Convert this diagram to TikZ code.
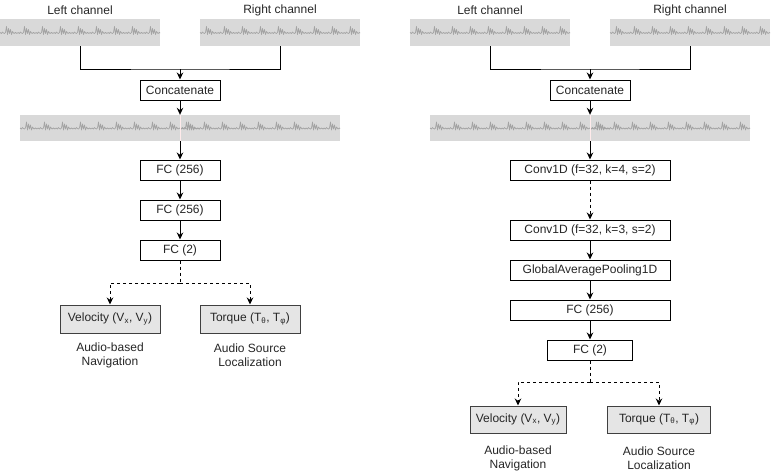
\documentclass[tikz,border=0pt]{standalone}
\usepackage{fontspec}
\setmainfont{Liberation Sans}
\usetikzlibrary{arrows.meta}
\newcommand{\wavepath}[3]{%
  \draw[wl] (#1,#2) \foreach \i in {1,...,#3}{ -- ++(1.5,1) -- ++(1,-1.5) -- ++(1,1) -- ++(1,0.5) -- ++(1,-1) -- ++(1,-6) -- ++(1,8) -- ++(1,-6) -- ++(1,5) -- ++(1,-4) -- ++(1,5) -- ++(1,-3) -- ++(1.5,2) -- ++(1.5,-1) -- ++(1.5,1) -- ++(1,-1) };%
}
\begin{document}
\begin{tikzpicture}[x=1pt,y=-1pt,
  box/.style={draw=black, line width=1pt, fill=white, minimum height=20pt, inner sep=0pt, font=\fontsize{12}{14}\selectfont, text=black!85},
  outbox/.style={box, fill=black!10, draw=black!75, minimum height=28pt},
  wavebg/.style={fill=black!15, draw=none, minimum height=27pt, inner sep=0pt},
  wl/.style={draw=black!36, line width=0.7pt, line join=round},
  lnk/.style={line width=1pt},
  arr/.style={line width=1pt, -{Stealth[length=7pt,width=6.5pt]}},
  dsh/.style={dash pattern=on 3pt off 3pt},
  lbl/.style={font=\fontsize{12}{14}\selectfont, align=center, text=black!85, inner sep=0pt}]
\useasboundingbox (0,0) rectangle (771,474);

% ---------------- Left diagram ----------------
\node[lbl] (lt1) at (80,10) {Left channel};
\node[lbl] (rt1) at (280,10) {Right channel};
\node[wavebg, minimum width=160pt] (lw) at (80,32.5) {};
\begin{scope}\clip (lw.north west) rectangle (lw.south east); \wavepath{0}{32.5}{10}\end{scope}
\node[wavebg, minimum width=160pt] (rw) at (280,32.5) {};
\begin{scope}\clip (rw.north west) rectangle (rw.south east); \wavepath{200}{32.5}{10}\end{scope}
\coordinate (j1) at (180,69);
\draw[lnk] (lw.south) |- (j1) -| (rw.south);
\node[box, minimum width=80pt] (cat) at (180,90) {Concatenate};
\draw[arr] (j1) -- (cat.north);
\node[wavebg, minimum width=320pt, minimum height=26pt] (ww) at (180,128) {};
\begin{scope}\clip (ww.north west) rectangle (ww.south east); \wavepath{20}{128}{10}\wavepath{180}{128}{10}\end{scope}
\draw[red!8, line width=0.5pt] (ww.north) -- (ww.south);
\draw[arr] (cat.south) -- (ww.north);
\node[box, minimum width=80pt] (fca) at (180,170) {FC (256)};
\node[box, minimum width=80pt] (fcb) at (180,210) {FC (256)};
\node[box, minimum width=80pt] (fcc) at (180,250) {FC (2)};
\draw[arr] (ww.south) -- (fca.north);
\draw[arr] (fca.south) -- (fcb.north);
\draw[arr] (fcb.south) -- (fcc.north);
\node[outbox, minimum width=100pt] (vel) at (110,319) {Velocity (V\textsubscript{x}, V\textsubscript{y})};
\node[outbox, minimum width=100pt] (tor) at (250,319) {Torque (T\textsubscript{θ}, T\textsubscript{φ})};
\coordinate (d1) at (180,283);
\draw[lnk, dsh] (fcc.south) -- (d1);
\draw[arr, dsh] (d1) -| (vel.north);
\draw[arr, dsh] (d1) -| (tor.north);
\node[lbl] (nav) at (110,355) {Audio-based\\Navigation};
\node[lbl] (loc) at (250,355) {Audio Source\\Localization};

% ---------------- Right diagram ----------------
\node[lbl] (lt2) at (490,10) {Left channel};
\node[lbl] (rt2) at (690,10) {Right channel};
\node[wavebg, minimum width=160pt] (lw2) at (490,32.5) {};
\begin{scope}\clip (lw2.north west) rectangle (lw2.south east); \wavepath{410}{32.5}{10}\end{scope}
\node[wavebg, minimum width=160pt] (rw2) at (690,32.5) {};
\begin{scope}\clip (rw2.north west) rectangle (rw2.south east); \wavepath{610}{32.5}{10}\end{scope}
\coordinate (j2) at (590,69);
\draw[lnk] (lw2.south) |- (j2) -| (rw2.south);
\node[box, minimum width=80pt] (cat2) at (590,90) {Concatenate};
\draw[arr] (j2) -- (cat2.north);
\node[wavebg, minimum width=320pt, minimum height=26pt] (ww2) at (590,128) {};
\begin{scope}\clip (ww2.north west) rectangle (ww2.south east); \wavepath{430}{128}{10}\wavepath{590}{128}{10}\end{scope}
\draw[red!8, line width=0.5pt] (ww2.north) -- (ww2.south);
\draw[arr] (cat2.south) -- (ww2.north);
\node[box, minimum width=160pt] (cv1) at (590,170) {Conv1D (f=32, k=4, s=2)};
\node[box, minimum width=160pt] (cv2) at (590,230) {Conv1D (f=32, k=3, s=2)};
\node[box, minimum width=160pt] (gap) at (590,270) {GlobalAveragePooling1D};
\node[box, minimum width=160pt] (fc3) at (590,310) {FC (256)};
\node[box, minimum width=85pt] (fc4) at (590,350) {FC (2)};
\draw[arr] (ww2.south) -- (cv1.north);
\draw[arr, dsh] (cv1.south) -- (cv2.north);
\draw[arr] (cv2.south) -- (gap.north);
\draw[arr] (gap.south) -- (fc3.north);
\draw[arr] (fc3.south) -- (fc4.north);
\node[outbox, minimum width=96pt, minimum height=27pt] (vel2) at (518,419.5) {Velocity (V\textsubscript{x}, V\textsubscript{y})};
\node[outbox, minimum width=103pt, minimum height=27pt] (tor2) at (659,419.5) {Torque (T\textsubscript{θ}, T\textsubscript{φ})};
\coordinate (d2) at (590,382);
\draw[lnk, dsh] (fc4.south) -- (d2);
\draw[arr, dsh] (d2) -| (vel2.north);
\draw[arr, dsh] (d2) -| (tor2.north);
\node[lbl] (nav2) at (518,458) {Audio-based\\Navigation};
\node[lbl] (loc2) at (659,458) {Audio Source\\Localization};
\end{tikzpicture}
\end{document}
